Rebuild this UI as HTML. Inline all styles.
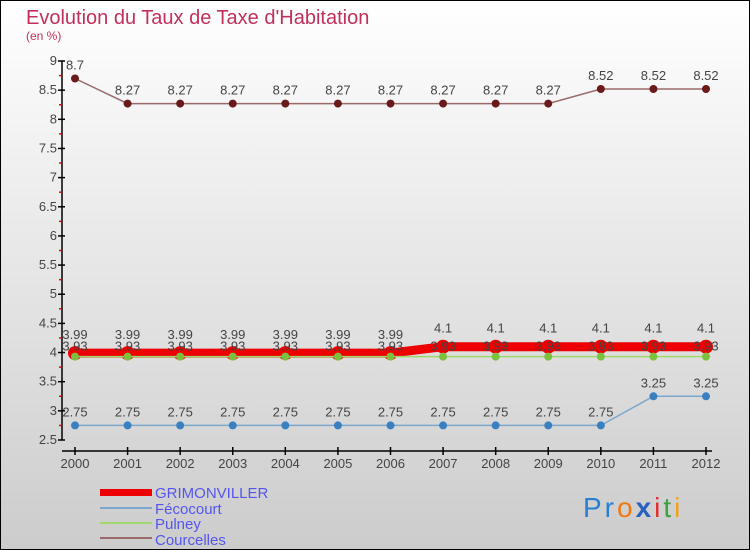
<!DOCTYPE html>
<html><head><meta charset="utf-8"><style>
body{margin:0}
#c{width:750px;height:550px;position:relative;overflow:hidden;background:linear-gradient(#fff,#ccc);font-family:"Liberation Sans",sans-serif}
</style></head><body>
<div id="c">
<svg id="s" width="750" height="550" xmlns="http://www.w3.org/2000/svg" font-family="Liberation Sans,sans-serif">
<rect x="0.5" y="0.5" width="749" height="549" fill="none" stroke="#000"/>
<text x="26" y="24" font-size="20" fill="#c0305a">Evolution du Taux de Taxe d'Habitation</text>
<text x="26" y="40" font-size="12" fill="#c0305a">(en %)</text>
<g id="axes"></g><g id="series"></g>
<g>
<rect x="100" y="489" width="52" height="7" fill="#e00"/>
<text x="155" y="498" font-size="15" fill="#5555ee">GRIMONVILLER</text>
<line x1="100" y1="508" x2="152" y2="508" stroke="#7ba7cc" stroke-width="2"/>
<text x="155" y="514" font-size="15" fill="#5555ee">Fécocourt</text>
<line x1="100" y1="523" x2="152" y2="523" stroke="#9fd86a" stroke-width="2"/>
<text x="155" y="529" font-size="15" fill="#5555ee">Pulney</text>
<line x1="100" y1="538" x2="152" y2="538" stroke="#9a6a6a" stroke-width="2"/>
<text x="155" y="545" font-size="15" fill="#5555ee">Courcelles</text>
</g>
<text x="583" y="517" font-size="28" letter-spacing="3"><tspan fill="#2a7fd0">Pr</tspan><tspan fill="#f07a10">o</tspan><tspan fill="#2a60c0" font-weight="bold">x</tspan><tspan fill="#e03030">i</tspan><tspan fill="#40a040">t</tspan><tspan fill="#f0a020">i</tspan></text>
</svg>
</div>
<script>
const years=[2000,2001,2002,2003,2004,2005,2006,2007,2008,2009,2010,2011,2012];
const grimonviller=[3.99,3.99,3.99,3.99,3.99,3.99,3.99,4.1,4.1,4.1,4.1,4.1,4.1];
const fecocourt=[2.75,2.75,2.75,2.75,2.75,2.75,2.75,2.75,2.75,2.75,2.75,3.25,3.25];
const pulney=[3.93,3.93,3.93,3.93,3.93,3.93,3.93,3.93,3.93,3.93,3.93,3.93,3.93];
const courcelles=[8.7,8.27,8.27,8.27,8.27,8.27,8.27,8.27,8.27,8.27,8.52,8.52,8.52];
const yTicks=[2.5,3,3.5,4,4.5,5,5.5,6,6.5,7,7.5,8,8.5,9];
const NS="http://www.w3.org/2000/svg";
const X=i=>75+i*(706-75)/(years.length-1);
const Y=v=>440-(v-2.5)*(440-61)/6.5;
function mk(t,a,p){const e=document.createElementNS(NS,t);for(const k in a)e.setAttribute(k,a[k]);if(p)p.appendChild(e);return e;}
const ax=document.getElementById('axes'),sr=document.getElementById('series');
let e=mk('line',{x1:62,y1:Y(9),x2:62,y2:Y(2.5),stroke:'#000','stroke-width':1.5},ax);


e=mk('line',{x1:62,y1:451,x2:712,y2:451,stroke:'#000','stroke-width':1.5},ax);


yTicks.forEach((v,i)=>{
 mk('line',{x1:58,y1:Y(v),x2:65,y2:Y(v),stroke:'#000','stroke-width':1.5},ax);
 if(i<yTicks.length-1)mk('line',{x1:59,y1:Y(v+0.25),x2:62,y2:Y(v+0.25),stroke:'#e00','stroke-width':1.5},ax);
 const t=mk('text',{x:57,y:Y(v)+4,'text-anchor':'end','font-size':13,fill:'#444'},ax);
 t.textContent=String(v);
 
 
});
years.forEach((y,i)=>{
 mk('line',{x1:X(i),y1:447,x2:X(i),y2:455,stroke:'#000','stroke-width':1.5},ax);
 const t=mk('text',{x:X(i),y:468,'text-anchor':'middle','font-size':13,fill:'#444'},ax);
 t.textContent=String(y);
 
 
});
function series(name,vals,color,w,mr,mc,dy){
 const g=mk('g',{},sr);
 
 
 mk('polyline',{points:vals.map((v,i)=>X(i)+','+Y(v)).join(' '),fill:'none',stroke:color,'stroke-width':w},g);
 vals.forEach((v,i)=>{
  const c=mk('circle',{cx:X(i),cy:Y(v),r:mr,fill:mc},g);
  
  
 });
 vals.forEach((v,i)=>{
  const t=mk('text',{x:X(i),y:Y(v)-dy,'text-anchor':'middle','font-size':13,fill:'#444'},g);
  t.textContent=String(v);
  
  
 });
}
series('courcelles',courcelles,'#9a6a6a',1.5,4,'#6a1a1a',9);
series('fecocourt',fecocourt,'#7ba7cc',1.5,4,'#3a80c0',9);
series('grimonviller',grimonviller,'#e00',9,7,'#e00',14);
series('pulney',pulney,'#9fd86a',1.5,4,'#7cc040',6);
</script>
</body></html>
